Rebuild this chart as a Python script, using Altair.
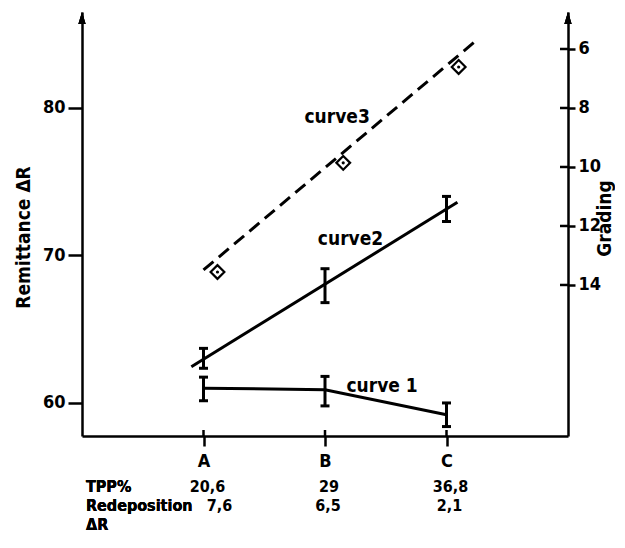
import altair as alt
import pandas as pd

# ---------------- data ----------------
categories = ["A", "B", "C"]
cat_x = [1, 2, 3]

curve1_mean = [61.0, 60.9, 59.2]
curve1_lo = [60.15, 59.8, 58.4]
curve1_hi = [61.75, 61.8, 60.0]

curve2_mean = [63.0, 68.0, 73.1]
curve2_lo = [62.35, 66.8, 72.3]
curve2_hi = [63.7, 69.1, 74.0]
curve2_fit_x = [0.9, 3.09]
curve2_fit_y = [62.45, 73.6]

curve3_x = [1.115, 2.15, 3.10]
curve3_grading = [13.56, 9.86, 6.61]
curve3_fit_x = [1.0, 3.26]
curve3_fit_grading = [13.49, 5.66]

left_ticks = [60, 70, 80]
right_ticks = [6, 8, 10, 12, 14]

curve_names = ["curve 1", "curve2", "curve3"]
curve_label_x = [2.47, 2.21, 2.10]
curve_label_y = [61.15, 71.1, 79.4]

tpp_values = ["20,6", "29", "36,8"]
redeposition_values = ["7,6", "6,5", "2,1"]

left_domain = [57.76, 86.5]
right_domain = [4.746, 19.12]
x_domain = [0, 4]

# ---------------- style ----------------
FONT = "Liberation Sans Narrow, DejaVu Sans Condensed, Liberation Sans, sans-serif"
W, H = 486, 424

xscale = alt.Scale(domain=x_domain, nice=False, zero=False)
lscale = alt.Scale(domain=left_domain, nice=False, zero=False)
rscale = alt.Scale(domain=right_domain, nice=False, zero=False, reverse=True)

label_expr = "[" + ",".join(f"'{c}'" for c in categories) + "][datum.value - 1]"
xaxis = alt.Axis(values=cat_x, labelExpr=label_expr, title=None, grid=False,
                 domainWidth=2.5, tickWidth=2.5, tickSize=10, labelPadding=6,
                 labelFontSize=18)
laxis = alt.Axis(values=left_ticks, title="Remittance  ΔR", grid=False,
                 domainWidth=2.5, tickWidth=2.5, tickSize=14, labelPadding=3,
                 labelFontSize=18, titleFontSize=19, titleAngle=270,
                 titleX=-59, titleY=225, titleBaseline="middle", titleAlign="center")
raxis = alt.Axis(orient="right", values=right_ticks, title="Grading", grid=False,
                 domainWidth=2.5, tickWidth=2.5, tickSize=7, labelPadding=3,
                 labelFontSize=18, titleFontSize=19, titleAngle=270,
                 titleX=36, titleY=206, titleBaseline="middle", titleAlign="center")


def X(field):
    return alt.X(field, type="quantitative", scale=xscale, axis=xaxis)


def YL(field):
    return alt.Y(field, type="quantitative", scale=lscale, axis=laxis)


def YR(field):
    return alt.Y(field, type="quantitative", scale=rscale, axis=raxis)


c1 = pd.DataFrame({"x": cat_x, "mean": curve1_mean, "lo": curve1_lo, "hi": curve1_hi})
c2 = pd.DataFrame({"x": cat_x, "mean": curve2_mean, "lo": curve2_lo, "hi": curve2_hi})
c2fit = pd.DataFrame({"x": curve2_fit_x, "y": curve2_fit_y})
c3 = pd.DataFrame({"x": curve3_x, "g": curve3_grading})
c3fit = pd.DataFrame({"x": curve3_fit_x, "g": curve3_fit_grading})
lbl = pd.DataFrame({"x": curve_label_x, "y": curve_label_y, "t": curve_names})
rt = pd.DataFrame({"g": right_ticks})
tpp = pd.DataFrame({"x": cat_x, "t": tpp_values})
red = pd.DataFrame({"x": cat_x, "t": redeposition_values})

BLACK = "black"

line1 = alt.Chart(c1).mark_line(color=BLACK, strokeWidth=3).encode(x=X("x"), y=YL("mean"))


def bars(df):
    rule = alt.Chart(df).mark_rule(color=BLACK, strokeWidth=3).encode(
        x=X("x"), y=YL("lo"), y2="hi")
    cap_lo = alt.Chart(df).mark_tick(color=BLACK, orient="horizontal", size=9,
                                     thickness=3, opacity=1).encode(x=X("x"), y=YL("lo"))
    cap_hi = alt.Chart(df).mark_tick(color=BLACK, orient="horizontal", size=9,
                                     thickness=3, opacity=1).encode(x=X("x"), y=YL("hi"))
    return [rule, cap_lo, cap_hi]


line2 = alt.Chart(c2fit).mark_line(color=BLACK, strokeWidth=3).encode(x=X("x"), y=YL("y"))

labels = alt.Chart(lbl).mark_text(font=FONT, fontSize=19, fontWeight="bold",
                                  color=BLACK, align="center", baseline="middle").encode(
    x=X("x"), y=YL("y"), text="t:N")

arrow_shape = "M0,-1L-0.6,1L0.6,1Z"
left_arrow = alt.Chart(c1).mark_point(shape=arrow_shape, size=144, filled=True,
                                      color=BLACK, opacity=1, yOffset=6).encode(
    x=alt.XDatum(x_domain[0], type="quantitative", scale=xscale, axis=xaxis),
    y=alt.YDatum(left_domain[1], type="quantitative", scale=lscale, axis=laxis))

# small upward part of the crossing ticks on the category axis
x_ticks_up = alt.Chart(c1).mark_tick(orient="vertical", size=6, thickness=2.5,
                                     color=BLACK, opacity=1, yOffset=-3).encode(
    x=X("x"),
    y=alt.YDatum(left_domain[0], type="quantitative", scale=lscale, axis=laxis))

TXT = dict(font=FONT, fontSize=16, fontWeight="bold", color=BLACK, baseline="middle")
row_tpp_y, row_red_y, row_dr_y = H + 51, H + 70, H + 89

head_tpp = alt.Chart(c1).mark_text(align="left", text="TPP%", **TXT).encode(
    x=alt.value(4), y=alt.value(row_tpp_y))
head_red = alt.Chart(c1).mark_text(align="left", text="Redeposition", **TXT).encode(
    x=alt.value(4), y=alt.value(row_red_y))
head_dr = alt.Chart(c1).mark_text(align="left", text="ΔR", **TXT).encode(
    x=alt.value(4), y=alt.value(row_dr_y))
tpp_txt = alt.Chart(tpp).mark_text(align="center", dx=4, **TXT).encode(
    x=X("x"), y=alt.value(row_tpp_y), text="t:N")
red_first = alt.Chart(red).transform_filter("datum.x == 1").mark_text(
    align="center", dx=16, **TXT).encode(x=X("x"), y=alt.value(row_red_y), text="t:N")
red_rest = alt.Chart(red).transform_filter("datum.x > 1").mark_text(
    align="center", dx=3, **TXT).encode(x=X("x"), y=alt.value(row_red_y), text="t:N")

left = alt.layer(line1, *bars(c1), line2, *bars(c2), labels, left_arrow, x_ticks_up,
                 head_tpp, head_red, head_dr, tpp_txt, red_first, red_rest)

line3 = alt.Chart(c3fit).mark_line(color=BLACK, strokeWidth=3, strokeDash=[13, 7]).encode(
    x=X("x"), y=YR("g"))
diamonds = alt.Chart(c3).mark_point(shape="diamond", size=190, filled=False, color=BLACK,
                                    strokeWidth=2.2, opacity=1).encode(x=X("x"), y=YR("g"))
dots = alt.Chart(c3).mark_point(shape="circle", size=10, filled=True, color=BLACK,
                                opacity=1).encode(x=X("x"), y=YR("g"))
right_arrow = alt.Chart(c3).mark_point(shape=arrow_shape, size=144, filled=True,
                                       color=BLACK, opacity=1, yOffset=6).encode(
    x=alt.XDatum(x_domain[1], type="quantitative", scale=xscale, axis=xaxis),
    y=alt.YDatum(right_domain[0], type="quantitative", scale=rscale, axis=raxis))
inner_ticks = alt.Chart(rt).mark_tick(orient="horizontal", size=8, thickness=2.5,
                                      color=BLACK, opacity=1, xOffset=-4).encode(
    x=alt.XDatum(x_domain[1], type="quantitative", scale=xscale, axis=xaxis),
    y=YR("g"))

right = alt.layer(line3, diamonds, dots, right_arrow, inner_ticks)

chart = alt.layer(left, right).resolve_scale(y="independent").properties(
    width=W, height=H,
    autosize=alt.AutoSizeParams(type="none"),
    padding={"left": 74, "top": 4, "right": 47, "bottom": 98},
    background="white",
).configure_view(strokeWidth=0).configure_axis(
    domainColor=BLACK, tickColor=BLACK, labelColor=BLACK, titleColor=BLACK,
    labelFont=FONT, titleFont=FONT, labelFontWeight="bold", titleFontWeight="bold",
)

chart.save("out.html", embed_options={"renderer": "svg", "actions": False})
